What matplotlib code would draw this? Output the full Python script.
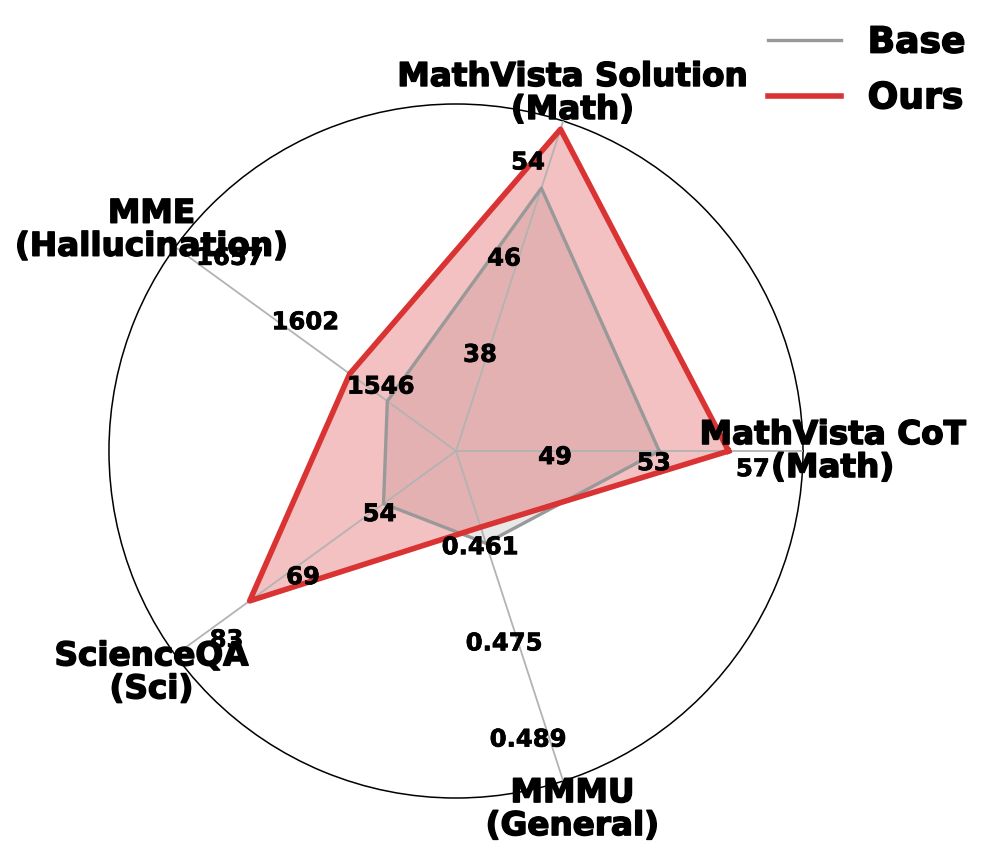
"""Radar chart: Base vs Ours across five benchmarks, one scale per axis."""

import numpy as np
from matplotlib import pyplot as plt
from matplotlib import patheffects as pe

categories = [
    "MathVista CoT\n(Math)",
    "MathVista Solution\n(Math)",
    "MME\n(Hallucination)",
    "ScienceQA\n(Sci)",
    "MMMU\n(General)",
]
base_scores = [53.2, 52.3, 1538.0, 52.6, 0.4607]
ours_scores = [56.0, 57.3, 1564.0, 76.8, 0.4583]

# value range mapped onto radius 0..1 for each axis
axis_lo = [45.0, 30.0, 1490.5, 39.5, 0.447]
axis_hi = [59.0, 58.0, 1684.75, 90.25, 0.496]

tick_labels = [
    ["49", "53", "57"],
    ["38", "46", "54"],
    ["1546", "1602", "1657"],
    ["54", "69", "83"],
    ["0.461", "0.475", "0.489"],
]


def normalise(scores):
    return [(s - lo) / (hi - lo) for s, lo, hi in zip(scores, axis_lo, axis_hi)]


n = len(categories)
angles = np.deg2rad(np.arange(n) * 360.0 / n)
closed = np.append(angles, angles[0])

base_r = normalise(base_scores)
ours_r = normalise(ours_scores)
base_r = base_r + base_r[:1]
ours_r = ours_r + ours_r[:1]

RED = "#d93333"
GREY = "#999999"
heavy = [pe.withStroke(linewidth=1.1, foreground="black")]
light = [pe.withStroke(linewidth=0.5, foreground="black")]

fig = plt.figure(figsize=(9.97, 8.58), dpi=100)
ax = fig.add_axes([0.1093, 0.0699, 0.6961, 0.8089], projection="polar")
ax.set_ylim(0, 1)
ax.set_xticks([])
ax.set_yticks([])
ax.grid(False)
ax.spines["polar"].set_color("black")
ax.spines["polar"].set_linewidth(1.1)

ax.fill(closed, base_r, color=GREY, alpha=0.22, zorder=1)
ax.fill(closed, ours_r, color=RED, alpha=0.3, zorder=2)

# spokes
for a in angles:
    ax.plot([a, a], [0, 1], color="#b3b3b3", lw=1.3, zorder=3)

ax.plot(closed, base_r, color=GREY, lw=2.4, zorder=4, label="Base")
ax.plot(closed, ours_r, color=RED, lw=4.0, zorder=5, label="Ours")

# per-axis tick labels
label_shift = [-3.5, 4.0, -4.5, 3.5, -4.0]
tick_r = [2 / 7, 4 / 7, 6 / 7]
for a, shift, labels in zip(angles, label_shift, tick_labels):
    for r, txt in zip(tick_r, labels):
        ax.text(a + np.deg2rad(shift), r, txt, ha="center", va="center",
                fontsize=17.5, fontweight="bold", zorder=6, path_effects=light)

for a, name in zip(angles, categories):
    ax.text(a, 1.085, name, ha="center", va="center", fontsize=23.5,
            fontweight="bold", linespacing=1.0, zorder=7, clip_on=False,
            path_effects=heavy)

leg = fig.legend(loc="upper right", bbox_to_anchor=(1.001, 1.008), frameon=False,
                 prop={"size": 26, "weight": "bold"}, handlelength=2.0,
                 labelspacing=0.6, handletextpad=0.75)
for t in leg.get_texts():
    t.set_path_effects(heavy)

fig.savefig("out.png", dpi=100)
plt.close(fig)
